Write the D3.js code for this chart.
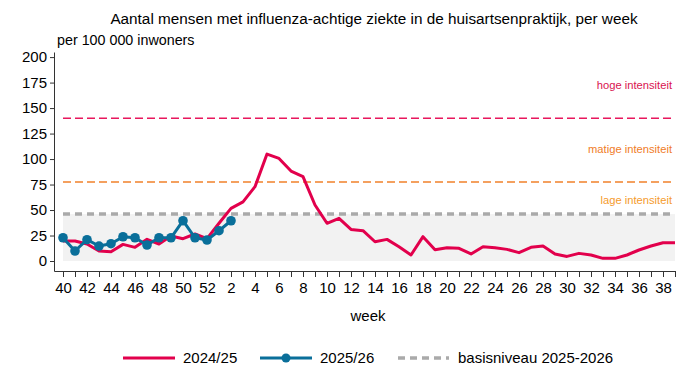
<!DOCTYPE html>
<html>
<head>
<meta charset="utf-8">
<script src="https://cdn.jsdelivr.net/npm/d3@7"></script>
<style>
  body { margin: 0; background: #fff; }
  svg { display: block; font-family: "Liberation Sans", Arial, sans-serif; }
</style>
</head>
<body>
<svg id="chart" width="688" height="383"></svg>
<script>
// Weeks (season week 40 .. week 39)
const weeks = [40,41,42,43,44,45,46,47,48,49,50,51,52,1,2,3,4,5,6,7,8,9,10,11,12,13,14,15,16,17,18,19,20,21,22,23,24,25,26,27,28,29,30,31,32,33,34,35,36,37,38,39];
// 2024/25 season
const season2425 = [19.6,19.6,16.7,9.8,9.1,16.3,13.4,21.3,16.7,24.5,21.9,26.5,21.9,37,51.6,58,72.9,104.9,100.6,88.2,82.7,54.9,37,41.8,31,29.7,18.9,21.2,14,5.9,23.9,11,13,12.4,6.9,14,13,11.4,8.2,13.4,14.8,6.9,4.5,7.5,5.9,2.6,2.6,5.9,10.8,14.7,17.9,17.9];
// 2025/26 season (so far)
const season2526 = [22.8,9.8,20.9,14.7,17,23.8,22.8,15.7,22.8,22.8,39.5,22.8,20.6,29.7,39.5];
// Thresholds
const baseline = 46;
const matige = 77.5;
const hoge = 140;
const yTicks = [0,25,50,75,100,125,150,175,200];
const seriesNames = ["2024/25","2025/26","basisniveau 2025-2026"];
const levelLabels = ["hoge intensiteit","matige intensiteit","lage intensiteit"];

const red = "#e2004c", blue = "#0a6f9a", gray = "#aaaaaa";
const svg = d3.select("#chart");

const x = d3.scaleLinear().domain([-0.75, 51]).range([54, 675]);
const y = d3.scaleLinear().domain([-9.8, 205]).range([271, 52]);

// basis band
svg.append("rect")
  .attr("x", x(0)).attr("width", x(51) - x(0))
  .attr("y", y(baseline)).attr("height", y(0) - y(baseline))
  .attr("fill", "#f2f2f2");

// threshold lines
function hline(v, color, w, dash) {
  svg.append("line")
    .attr("x1", x(0)).attr("x2", x(51))
    .attr("y1", y(v)).attr("y2", y(v))
    .attr("stroke", color).attr("stroke-width", w)
    .attr("stroke-dasharray", dash);
}
hline(hoge, "#e8175d", 1.6, "8,4");
hline(matige, "#f4a05e", 2, "8,4");
hline(baseline, gray, 3.5, "7,5");

// level labels
const lvl = [[levelLabels[0], 173, "#d9134f"], [levelLabels[1], 109.5, "#f07c27"], [levelLabels[2], 60, "#f59b2c"]];
lvl.forEach(([t, v, c]) => {
  svg.append("text").attr("x", 672).attr("y", y(v)).attr("dy", "0.35em")
    .attr("text-anchor", "end").attr("font-size", 11.2).attr("fill", c).text(t);
});

// axes
const yAxis = d3.axisLeft(y).tickValues(yTicks).tickSize(4).tickSizeOuter(0);
const gy = svg.append("g").attr("transform", `translate(54,0)`).call(yAxis);
gy.selectAll("text").attr("font-size", 15).attr("fill", "#000").attr("font-family", "Liberation Sans, Arial, sans-serif");
gy.select(".domain").attr("stroke", "#333");
gy.selectAll(".tick line").attr("stroke", "#333");

const xAxis = d3.axisBottom(x).tickValues(d3.range(0, 52)).tickSize(6).tickSizeOuter(0)
  .tickFormat(i => i % 2 === 0 ? weeks[i] : "");
const gx = svg.append("g").attr("transform", `translate(0,271)`).call(xAxis);
gx.selectAll("text").attr("font-size", 15).attr("fill", "#000").attr("dy", "0.85em").attr("font-family", "Liberation Sans, Arial, sans-serif");
gx.select(".domain").attr("stroke", "#333");
gx.selectAll(".tick line").attr("stroke", "#333");

// lines
const line = d3.line().x((d, i) => x(i)).y(d => y(d));
svg.append("path").datum(season2425).attr("d", line)
  .attr("fill", "none").attr("stroke", red).attr("stroke-width", 3).attr("stroke-linejoin", "round");
svg.append("path").datum(season2526).attr("d", line)
  .attr("fill", "none").attr("stroke", blue).attr("stroke-width", 3).attr("stroke-linejoin", "round");
svg.selectAll("circle.pt").data(season2526).enter().append("circle")
  .attr("class", "pt").attr("cx", (d, i) => x(i)).attr("cy", d => y(d)).attr("r", 4.8).attr("fill", blue);

// titles
svg.append("text").attr("x", 374).attr("y", 24).attr("text-anchor", "middle")
  .attr("font-size", 15.3).attr("fill", "#000")
  .text("Aantal mensen met influenza-achtige ziekte in de huisartsenpraktijk, per week");
svg.append("text").attr("x", 57).attr("y", 45).attr("font-size", 14.3).attr("fill", "#000").text("per 100 000 inwoners");
svg.append("text").attr("x", 368).attr("y", 321).attr("text-anchor", "middle").attr("font-size", 15).attr("fill", "#000").text("week");

// legend
const ly = 358;
const lg = svg.append("g");
lg.append("line").attr("x1", 123).attr("x2", 175).attr("y1", ly).attr("y2", ly).attr("stroke", red).attr("stroke-width", 3);
lg.append("text").attr("x", 183).attr("y", ly).attr("dy", "0.35em").attr("font-size", 15).text(seriesNames[0]);
lg.append("line").attr("x1", 260).attr("x2", 312).attr("y1", ly).attr("y2", ly).attr("stroke", blue).attr("stroke-width", 3);
lg.append("circle").attr("cx", 286).attr("cy", ly).attr("r", 4.5).attr("fill", blue);
lg.append("text").attr("x", 320).attr("y", ly).attr("dy", "0.35em").attr("font-size", 15).text(seriesNames[1]);
lg.append("line").attr("x1", 398).attr("x2", 449).attr("y1", ly).attr("y2", ly).attr("stroke", gray).attr("stroke-width", 3.5).attr("stroke-dasharray", "7,5");
lg.append("text").attr("x", 458).attr("y", ly).attr("dy", "0.35em").attr("font-size", 15).text(seriesNames[2]);
</script>
</body>
</html>
